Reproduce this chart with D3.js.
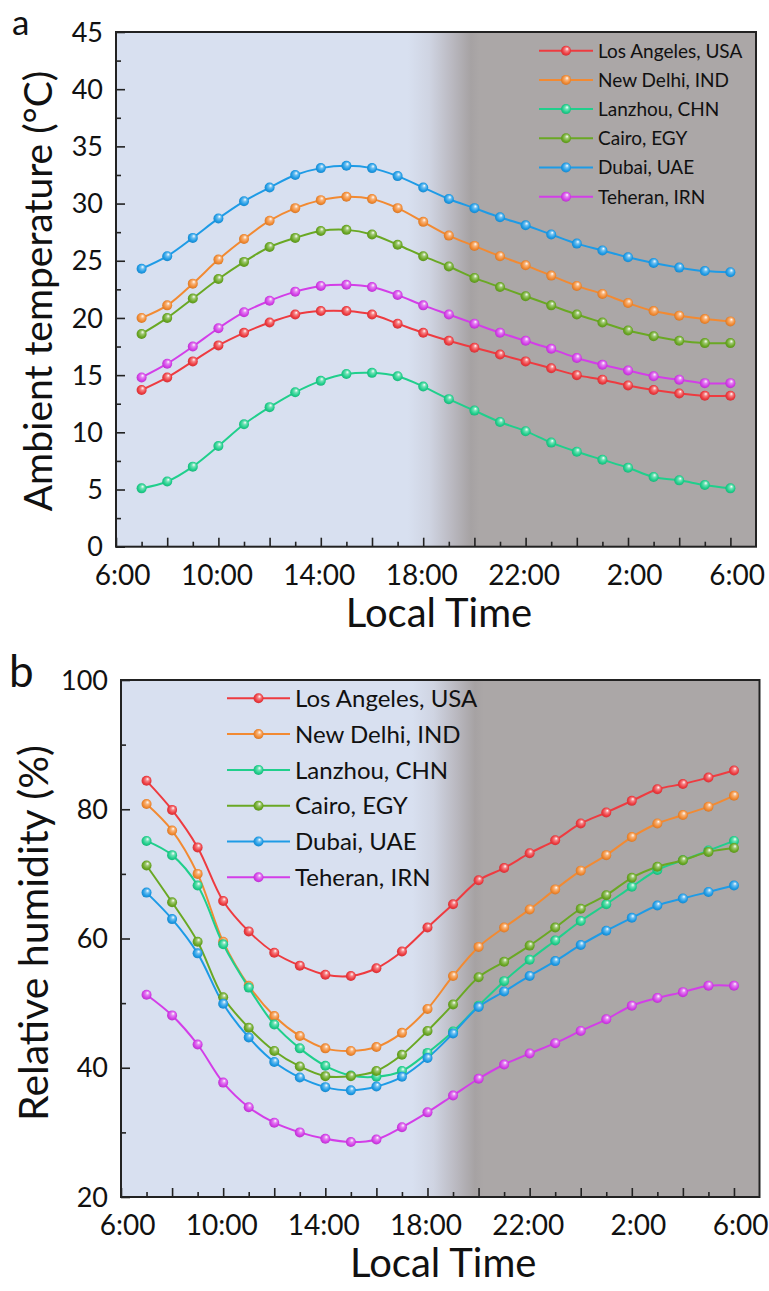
<!DOCTYPE html>
<html>
<head>
<meta charset="utf-8">
<script src="https://cdn.jsdelivr.net/npm/d3@7"></script>
<style>
  html, body { margin: 0; padding: 0; background: #fff; }
  svg { display: block; font-family: Lato, "Open Sans", sans-serif; }
</style>
</head>
<body>
<svg id="fig" width="769" height="1291"></svg>
<script>
// Hourly readings from 7:00 to 6:00 the next day
const hourLabels = ["7:00","8:00","9:00","10:00","11:00","12:00","13:00","14:00","15:00","16:00","17:00","18:00",
                    "19:00","20:00","21:00","22:00","23:00","0:00","1:00","2:00","3:00","4:00","5:00","6:00"];
const axisTimeLabels = ["6:00","10:00","14:00","18:00","22:00","2:00","6:00"];
const cities = ["Los Angeles, USA","New Delhi, IND","Lanzhou, CHN","Cairo, EGY","Dubai, UAE","Teheran, IRN"];
const cityColors = ["#ee3b40","#f28a32","#20cf8c","#6aa824","#1e9be6","#d33ee8"];

// Ambient temperature (°C)
const tempLosAngeles = [13.7,14.8,16.2,17.6,18.7,19.6,20.3,20.6,20.6,20.3,19.5,18.7,18.0,17.4,16.8,16.2,15.6,15.0,14.6,14.1,13.7,13.4,13.2,13.2];
const tempNewDelhi   = [20.0,21.1,23.0,25.1,26.9,28.5,29.6,30.3,30.6,30.4,29.6,28.4,27.2,26.3,25.4,24.6,23.7,22.8,22.1,21.3,20.6,20.2,19.9,19.7];
const tempLanzhou    = [5.1,5.7,7.0,8.8,10.7,12.2,13.5,14.5,15.1,15.2,14.9,14.0,12.9,11.9,10.9,10.1,9.1,8.3,7.6,6.9,6.1,5.8,5.4,5.1];
const tempCairo      = [18.6,20.0,21.7,23.4,24.9,26.2,27.0,27.6,27.7,27.3,26.4,25.4,24.5,23.5,22.7,21.9,21.1,20.3,19.6,18.9,18.4,18.0,17.8,17.8];
const tempDubai      = [24.3,25.4,27.0,28.7,30.2,31.4,32.5,33.1,33.3,33.1,32.4,31.4,30.4,29.6,28.8,28.1,27.3,26.5,25.9,25.3,24.8,24.4,24.1,24.0];
const tempTeheran    = [14.8,16.0,17.5,19.1,20.5,21.5,22.3,22.8,22.9,22.7,22.0,21.1,20.3,19.5,18.7,18.0,17.3,16.5,15.9,15.4,14.9,14.6,14.3,14.3];

// Relative humidity (%)
const rhLosAngeles = [84.4,79.9,74.1,65.8,61.1,57.8,55.8,54.4,54.2,55.4,58.0,61.7,65.3,69.0,70.9,73.2,75.2,77.8,79.5,81.3,83.1,83.9,84.9,86.0];
const rhNewDelhi   = [80.8,76.7,70.0,59.5,52.7,48.0,44.9,43.0,42.6,43.2,45.4,49.1,54.2,58.7,61.7,64.5,67.6,70.5,72.9,75.7,77.8,79.1,80.4,82.1];
const rhLanzhou    = [75.1,72.9,68.2,59.1,52.4,46.7,43.0,40.3,38.8,38.6,39.5,42.3,45.6,49.6,53.4,56.7,59.7,62.7,65.3,68.0,70.6,72.1,73.6,75.1];
const rhCairo      = [71.3,65.6,59.5,50.9,46.2,42.6,40.2,38.7,38.7,39.5,42.0,45.7,49.8,54.0,56.4,58.9,61.7,64.6,66.7,69.4,71.1,72.1,73.4,74.0];
const rhDubai      = [67.1,63.0,57.7,49.9,44.7,40.9,38.5,37.0,36.5,37.1,38.6,41.5,45.3,49.4,51.8,54.2,56.5,59.0,61.2,63.2,65.1,66.2,67.2,68.2];
const rhTeheran    = [51.3,48.1,43.6,37.7,33.9,31.5,30.0,29.0,28.5,28.9,30.8,33.1,35.7,38.3,40.5,42.2,43.8,45.7,47.5,49.6,50.8,51.7,52.7,52.7];

const tempSeries = [tempLosAngeles,tempNewDelhi,tempLanzhou,tempCairo,tempDubai,tempTeheran];
const rhSeries   = [rhLosAngeles,rhNewDelhi,rhLanzhou,rhCairo,rhDubai,rhTeheran];

const svg = d3.select("#fig");
const defs = svg.append("defs");

// Glossy sphere fill for each series colour
cityColors.forEach((c, i) => {
  const g = defs.append("radialGradient").attr("id", "ball" + i)
    .attr("cx", "0.5").attr("cy", "0.5").attr("r", "0.6")
    .attr("fx", "0.62").attr("fy", "0.3");
  g.append("stop").attr("offset", "0").attr("stop-color", "#ffffff");
  g.append("stop").attr("offset", "0.3").attr("stop-color", d3.interpolateRgb(c, "#fff")(0.35));
  g.append("stop").attr("offset", "0.65").attr("stop-color", c);
  g.append("stop").attr("offset", "1").attr("stop-color", d3.color(c).darker(0.6));
});

function drawPanel(cfg) {
  const x = d3.scaleLinear().domain([0, 25]).range([cfg.left, cfg.right]);
  const y = d3.scaleLinear().domain(cfg.yDomain).range([cfg.bottom, cfg.top]);
  const g = svg.append("g");

  // Day-to-night background
  const gid = "bg" + cfg.id;
  const lg = defs.append("linearGradient").attr("id", gid)
    .attr("gradientUnits", "userSpaceOnUse")
    .attr("x1", x(11.4)).attr("x2", x(14.2)).attr("y1", 0).attr("y2", 0);
  [[0, "#d8e0f0"], [0.3, "#cfd4e2"], [0.6, "#bbbac2"], [0.88, "#a6a2a3"], [1, "#aba7a7"]]
    .forEach(([o, c]) => lg.append("stop").attr("offset", o).attr("stop-color", c));
  g.append("rect").attr("x", cfg.left).attr("y", cfg.top)
    .attr("width", cfg.right - cfg.left).attr("height", cfg.bottom - cfg.top)
    .attr("fill", `url(#${gid})`);

  // Series lines and markers
  const line = d3.line().x((d, i) => x(i + 1)).y(d => y(d)).curve(d3.curveCatmullRom.alpha(0.5));
  cfg.series.forEach((vals, si) => {
    g.append("path").attr("d", line(vals)).attr("fill", "none")
      .attr("stroke", cityColors[si]).attr("stroke-width", 2);
  });
  cfg.series.forEach((vals, si) => {
    g.selectAll(null).data(vals).join("circle")
      .attr("cx", (d, i) => x(i + 1)).attr("cy", d => y(d)).attr("r", 5)
      .attr("fill", `url(#ball${si})`);
  });

  // Axes: ticks point into the plot
  const xMajor = d3.range(0, 25, 2), xMinor = d3.range(1, 25, 2);
  const xAx = g.append("g").attr("transform", `translate(0,${cfg.bottom})`);
  xAx.call(d3.axisBottom(x).tickValues(xMajor).tickSize(-9).tickFormat(""));
  xAx.append("g").call(d3.axisBottom(x).tickValues(xMinor).tickSize(-5).tickFormat(""));
  xAx.selectAll(".domain").remove();
  xAx.selectAll("line").attr("stroke", "#222").attr("stroke-width", 1.6);
  // time labels sit right-aligned a fixed distance past their tick
  g.selectAll(null).data(axisTimeLabels).join("text")
    .attr("x", (d, i) => x(i * 4) + 34.5).attr("y", cfg.bottom + 38)
    .attr("text-anchor", "end").attr("font-size", 28).attr("fill", "#111").text(d => d);

  const yAx = g.append("g").attr("transform", `translate(${cfg.left},0)`);
  yAx.call(d3.axisLeft(y).tickValues(cfg.yMajor).tickSize(-9).tickFormat(""));
  yAx.append("g").call(d3.axisLeft(y).tickValues(cfg.yMinor).tickSize(-5).tickFormat(""));
  yAx.selectAll(".domain").remove();
  yAx.selectAll("line").attr("stroke", "#222").attr("stroke-width", 1.6);
  g.selectAll(null).data(cfg.yMajor).join("text")
    .attr("x", cfg.left - 13).attr("y", d => y(d)).attr("dy", "0.36em")
    .attr("text-anchor", "end").attr("font-size", 27).attr("fill", "#111").text(d => d);

  // Frame
  g.append("rect").attr("x", cfg.left).attr("y", cfg.top)
    .attr("width", cfg.right - cfg.left).attr("height", cfg.bottom - cfg.top)
    .attr("fill", "none").attr("stroke", "#222").attr("stroke-width", 2);

  // Titles
  g.append("text").attr("x", (cfg.left + cfg.right) / 2 + 3).attr("y", cfg.bottom + 80)
    .attr("text-anchor", "middle").attr("font-size", 40).attr("fill", "#111").text("Local Time");
  g.append("text").attr("transform", `translate(${cfg.yTitleX},${cfg.yTitleY}) rotate(-90)`)
    .attr("text-anchor", "middle").attr("font-size", cfg.yTitleSize).attr("fill", "#111").text(cfg.yTitle);
  g.append("text").attr("x", cfg.letterX).attr("y", cfg.letterY)
    .attr("font-size", cfg.letterSize).attr("fill", "#111").text(cfg.letter);

  // Legend
  const L = cfg.legend;
  const leg = g.append("g");
  cities.forEach((name, i) => {
    const ly = L.y0 + i * L.dy;
    leg.append("line").attr("x1", L.x0).attr("x2", L.x0 + L.len).attr("y1", ly).attr("y2", ly)
      .attr("stroke", cityColors[i]).attr("stroke-width", 2);
    leg.append("circle").attr("cx", L.x0 + L.len / 2).attr("cy", ly).attr("r", 5)
      .attr("fill", `url(#ball${i})`);
    leg.append("text").attr("x", L.x0 + L.len + 5).attr("y", ly).attr("dy", "0.36em")
      .attr("font-size", L.size).attr("fill", "#111").text(name);
  });
}

drawPanel({
  id: "a", left: 116, right: 756, top: 32, bottom: 546.7,
  yDomain: [0, 45], yMajor: d3.range(0, 46, 5), yMinor: d3.range(2.5, 45, 5),
  series: tempSeries, yTitle: "Ambient temperature (°C)", yTitleX: 52, yTitleY: 291, yTitleSize: 39,
  letter: "a", letterX: 12, letterY: 35, letterSize: 35,
  legend: { x0: 539, len: 54, y0: 50.7, dy: 29.2, size: 19 }
});

drawPanel({
  id: "b", left: 121, right: 759.5, top: 680, bottom: 1197,
  yDomain: [20, 100], yMajor: d3.range(20, 101, 20), yMinor: d3.range(30, 100, 20),
  series: rhSeries, yTitle: "Relative humidity (%)", yTitleX: 48, yTitleY: 933, yTitleSize: 41,
  letter: "b", letterX: 9, letterY: 687, letterSize: 44,
  legend: { x0: 227, len: 63, y0: 698.3, dy: 35.8, size: 24 }
});
</script>
</body>
</html>
